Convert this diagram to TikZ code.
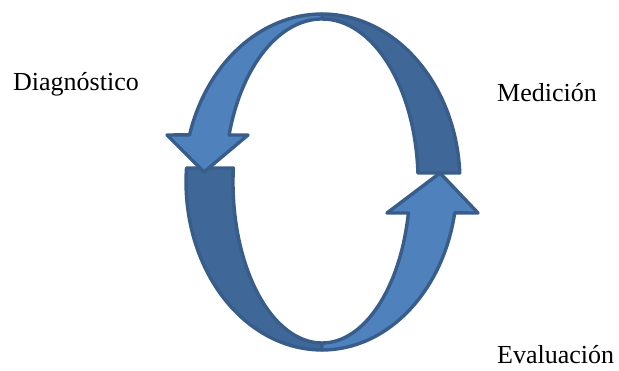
\documentclass[tikz,border=0pt]{standalone}
\usepackage{fontspec}
\setmainfont{Liberation Serif}
\usepackage{tikz}

\definecolor{ribbonlight}{HTML}{4F81BD}
\definecolor{ribbondark}{HTML}{3F6797}
\definecolor{ribbonline}{HTML}{385D8A}

\begin{document}
\begin{tikzpicture}[
  x=1pt,y=1pt,
  band/.style={draw=ribbonline,line width=3.4pt,line join=round},
  lightband/.style={band,fill=ribbonlight},
  darkband/.style={band,fill=ribbondark},
  stagelabel/.style={anchor=base west,inner sep=0pt,font=\fontsize{26}{30}\selectfont}
]
\useasboundingbox (0,0) rectangle (619,371);
% dark halves first
\path[darkband] (322,357) arc[start angle=90,end angle=3.07,x radius=138,y radius=168]
  -- (417.9,198) arc[start angle=3.17,end angle=90,x radius=96,y radius=163] -- cycle;
\path[darkband] (186.5,203) arc[start angle=175.22,end angle=270,x radius=136,y radius=168]
  -- (322,28) arc[start angle=270,end angle=175.01,x radius=89,y radius=161] -- cycle;
% light halves with the arrow heads
\path[lightband] (322,357) arc[start angle=90,end angle=163.7,x radius=138,y radius=168]
  -- (167,236) -- (204,199) -- (248,236)
  -- (229.1,236) arc[start angle=163.25,end angle=90,x radius=97,y radius=163] -- cycle;
\path[lightband] (322,21) arc[start angle=270,end angle=349.4,x radius=135,y radius=168]
  -- (478,158) -- (440,198) -- (387,158)
  -- (408.4,158) arc[start angle=348.9,end angle=270,x radius=88,y radius=161] -- cycle;
% labels
\node[stagelabel] (diag) at (13,280) {Diagnóstico};
\node[stagelabel] (medi) at (497,269) {Medición};
\node[stagelabel] (eval) at (497,7) {Evaluación};
\end{tikzpicture}
\end{document}
